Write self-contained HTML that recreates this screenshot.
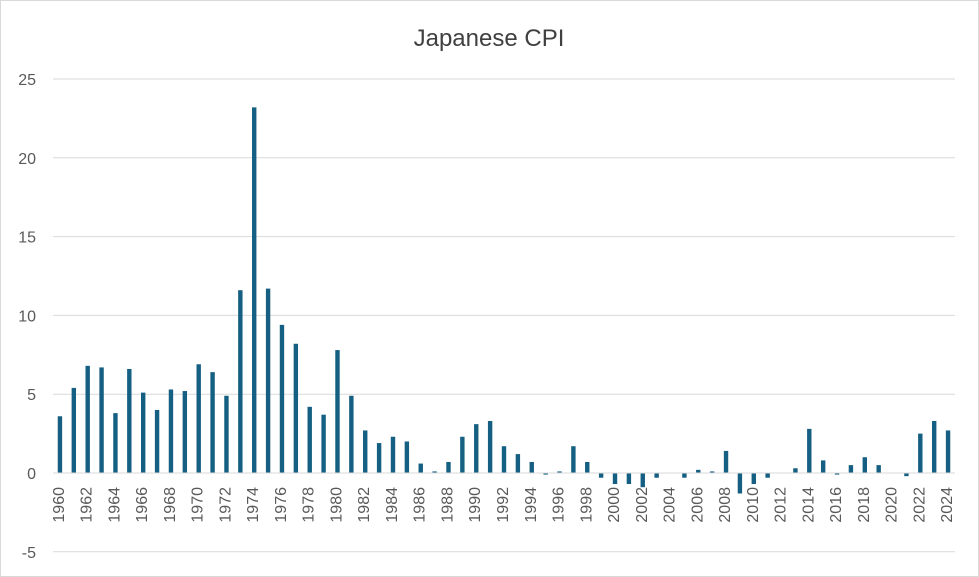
<!DOCTYPE html>
<html><head><meta charset="utf-8"><style>
html,body{margin:0;padding:0;background:#fff}
svg{display:block;font-family:"Liberation Sans",sans-serif}
</style></head><body>
<svg width="979" height="577" viewBox="0 0 979 577">
<rect x="0.5" y="0.5" width="978" height="576" fill="#fff" stroke="#d9d9d9"/>
<text x="489" y="46" text-anchor="middle" font-size="24" fill="#404040">Japanese CPI</text>
<g id="g"></g>
</svg>
<script>
const vals=[3.6,5.4,6.8,6.7,3.8,6.6,5.1,4.0,5.3,5.2,6.9,6.4,4.9,11.6,23.2,11.7,9.4,8.2,4.2,3.7,7.8,4.9,2.7,1.9,2.3,2.0,0.6,0.1,0.7,2.3,3.1,3.3,1.7,1.2,0.7,-0.1,0.1,1.7,0.7,-0.3,-0.7,-0.7,-0.9,-0.3,0.0,-0.3,0.2,0.1,1.4,-1.3,-0.7,-0.3,0.0,0.3,2.8,0.8,-0.1,0.5,1.0,0.5,0.0,-0.2,2.5,3.3,2.7];
const ns="http://www.w3.org/2000/svg",g=document.getElementById('g');
function el(t,a,txt){const e=document.createElementNS(ns,t);for(const k in a)e.setAttribute(k,a[k]);if(txt!=null)e.textContent=txt;g.appendChild(e);return e;}
const y0=473,pu=15.76,L=53,R=955,cw=(R-L)/65;
for(let v=-5;v<=25;v+=5){const y=y0-v*pu;
 if(v!==0)el('line',{x1:L,x2:R,y1:y,y2:y,stroke:'#d9d9d9','stroke-width':1});
 el('text',{x:36,y:y+6,'text-anchor':'end','font-size':16,fill:'#595959'},v);}
vals.forEach((v,i)=>{const cx=L+cw*(i+0.5);
 if(i%2===0)el('text',{x:0,y:0,transform:`translate(${cx+4},487) rotate(-90)`,'text-anchor':'end','font-size':16,fill:'#595959'},1960+i);});
vals.forEach((v,i)=>{const cx=L+cw*(i+0.5),h=Math.abs(v)*pu;
 el('rect',{x:cx-2.2,y:v>=0?y0-h:y0,width:4.4,height:Math.max(h,0.01),fill:'#156082'});});
el('line',{x1:L,x2:R,y1:y0,y2:y0,stroke:'#d9d9d9','stroke-width':1});
</script>
</body></html>
